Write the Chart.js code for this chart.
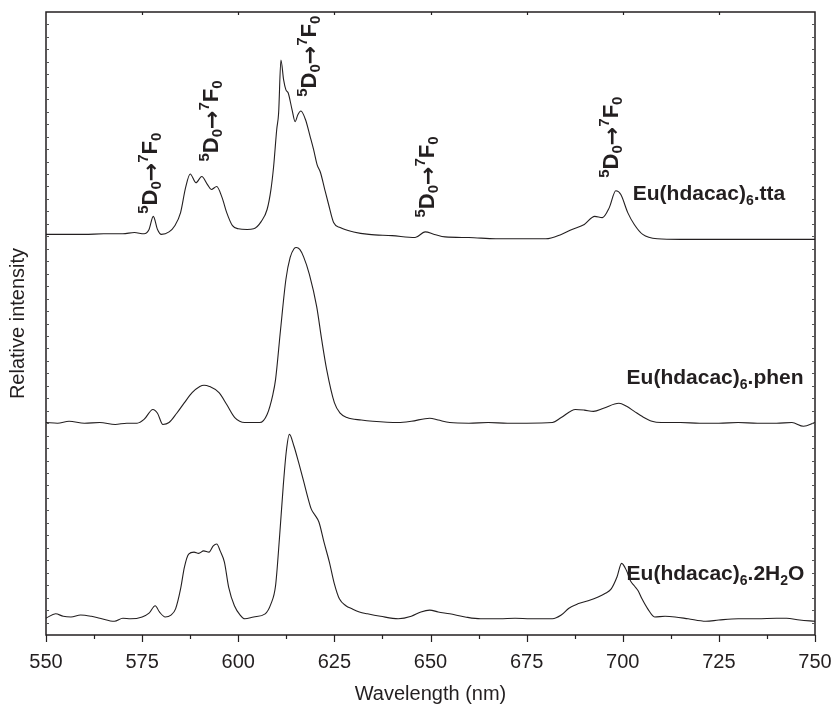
<!DOCTYPE html>
<html>
<head>
<meta charset="utf-8">
<script src="https://cdn.jsdelivr.net/npm/chart.js@4.4.1/dist/chart.umd.min.js"></script>
<style>
  html, body { margin: 0; padding: 0; background: #fff; }
  #wrap { width: 833px; height: 706px; position: relative; }
</style>
</head>
<body>
<div id="wrap"><canvas id="c"></canvas></div>
<script>
// ---------- DATA (y = relative intensity on a 0–100 plot scale) ----------
const xTicks = [550, 575, 600, 625, 650, 675, 700, 725, 750];

const wlTta = [550,555,560,565,570,573,575.5,576.8,577.9,579,580,582,583.5,585,586.3,587.5,589,590.5,592,593,594.4,595.8,597,598.5,600,602.3,604,606,607.5,608.5,609.2,610,610.5,611.1,611.8,612.4,613,614,614.8,615.5,616.3,617.5,618.7,619.6,620.5,621.4,622.5,623.5,624.8,626.5,630,634,640,646,648.6,651,653.8,660,667,675,680,684,686.8,690,692.7,694.7,696.5,698.2,699.5,701.3,703,705.2,709,715,725,735,745,750];
const intTta = [64.3,64.3,64.3,64.4,64.4,64.6,64.4,65.1,67.2,65.1,64.3,64.7,65.7,67.8,71.8,74.0,72.6,73.6,72.3,71.5,72.0,70.2,67.8,65.7,65.2,65.1,65.2,66.4,68.3,71.5,75.2,81.1,83.8,92.3,89.1,87.5,87.0,84.3,82.4,83.5,84.1,82.7,80.0,77.9,75.5,74.2,71.5,69.1,66.2,65.4,64.7,64.3,64.1,63.8,64.7,64.3,63.9,63.8,63.6,63.6,63.6,64.3,65.1,65.9,67.2,67.0,68.6,71.3,70.7,67.8,65.9,64.3,63.6,63.5,63.5,63.5,63.5,63.5];

const wlPhen = [550,553,556,560,564,568,571,573.7,575.5,577.8,579,580.4,582,584,586,588,590,591.1,592.5,595,597,599.1,601.7,605.6,607.5,609,609.7,611,612.4,613.5,614.5,615.1,616,617,618.5,620.4,621.7,623,625,626.5,628.3,632,635,641.6,645,649.8,652,655,660,665,670,675,681.7,684,687.7,690,692.4,695,699,701,703,705,707.6,710,715,720,725,730,735,740,744,747,750];
const intPhen = [34.1,34.0,34.3,34.0,34.1,33.8,34.0,34.0,34.6,36.2,35.6,33.8,34.1,35.6,37.3,38.9,39.9,40.1,39.9,38.9,37.0,34.9,34.1,34.1,35.4,38.6,41.0,49.0,57.1,60.6,62.0,62.2,61.9,60.7,57.9,52.7,47.4,42.6,37.3,35.6,34.9,34.5,34.3,34.1,34.3,34.8,34.5,34.1,34.0,34.1,34.0,34.0,34.1,34.9,36.2,36.1,35.9,36.4,37.2,36.7,35.9,35.1,34.3,34.1,34.1,34.0,34.0,34.1,34.0,34.0,34.1,33.5,34.1];

const wlH2O = [550,552.5,554.5,556.5,559,561.8,564,567.8,570,572,575,576.8,578.4,579.5,581,582.5,583.7,585,586,587.1,588.5,589.7,591,592.4,593.5,594.4,595.3,596.4,597.5,599,600.5,601.7,604,607,608.5,609.7,610.7,611.7,612.5,613.3,614.5,615.7,617,618,619,620,621,622.3,623.7,625,626.3,628,629.6,631.5,633.6,637,641.6,645,647.5,649.8,652,655,659,663,668,672,676,681.7,684,686,688.3,691,693.6,695.5,697,698.5,699.7,701,702,703,704,705,706.5,708.3,711,713.6,717,721.6,725,730,735,740,742.6,746,750];
const intH2O = [2.7,3.4,3.0,2.9,3.2,3.0,2.7,2.2,2.7,2.6,2.9,3.5,4.7,3.7,2.9,3.2,4.2,7.4,10.9,13.0,13.3,13.1,13.5,13.3,14.3,14.6,13.5,11.7,7.7,4.7,3.2,2.6,2.9,3.4,5.0,7.9,15.4,23.9,29.5,32.2,30.3,27.7,24.7,22.3,20.2,19.2,18.1,14.9,11.7,8.2,5.8,4.7,4.2,3.7,3.4,3.0,2.6,3.0,3.7,4.0,3.7,3.4,2.9,2.6,2.6,2.7,2.6,2.6,3.2,4.3,5.0,5.5,6.1,6.7,7.4,9.3,11.5,10.3,8.7,7.9,7.1,5.8,4.2,2.9,3.0,2.9,2.6,2.2,2.4,2.6,2.6,2.7,2.7,2.4,2.2];

const seriesNames = ["Eu(hdacac)6.tta", "Eu(hdacac)6.phen", "Eu(hdacac)6.2H2O"];
// transition annotation anchors: [wavelength at label centre, intensity at label foot]
const transitionNm = [577, 592.9, 618.5, 649.1, 696.9];
const transitionAt = [67.6, 76.0, 86.4, 67.0, 73.4];
// series label anchors: [wavelength of label start, intensity of label middle]
const seriesLabelNm = [702.6, 701.0, 701.0];
const seriesLabelAt = [71.0, 41.5, 10.1];

// ---------- CHART ----------
const INK = '#231f20';
const FONT = '"Liberation Sans", Arial, Helvetica, sans-serif';
const ARROW_FONT = '"DejaVu Sans", sans-serif';

function pts(xs, ys) { return xs.map((x, i) => ({ x: x, y: ys[i] })); }

function drawRich(ctx, segs, x, y) {
  let cx = x;
  for (const s of segs) {
    ctx.font = (s.bold ? 'bold ' : '') + s.size + 'px ' + (s.family || FONT);
    ctx.fillText(s.t, cx, y + (s.dy || 0));
    cx += ctx.measureText(s.t).width;
  }
}

const B = 21, S = 14;
const TB = 22, TS = 15;
const transitionSegs = [
  { t: '5', size: TS, bold: true, dy: -9 },
  { t: 'D', size: TB, bold: true },
  { t: '0', size: TS, bold: true, dy: 4 },
  { t: '\u2192', size: TB, bold: true, family: ARROW_FONT, dy: 1 },
  { t: '7', size: TS, bold: true, dy: -9 },
  { t: 'F', size: TB, bold: true },
  { t: '0', size: TS, bold: true, dy: 4 }
];
function nameSegs(name) {
  const segs = [];
  for (let i = 0; i < name.length; i++) {
    const ch = name[i];
    const prev = name[i - 1];
    if (/[0-9]/.test(ch) && (prev === ')' || prev === 'H')) {
      segs.push({ t: ch, size: S, bold: true, dy: 5 });
    } else {
      if (segs.length && !segs[segs.length - 1].dy) segs[segs.length - 1].t += ch;
      else segs.push({ t: ch, size: B, bold: true });
    }
  }
  return segs;
}

const decor = {
  id: 'decor',
  afterDatasetsDraw(chart) {
    const { ctx, chartArea: a, scales: { x, y } } = chart;
    ctx.save();
    ctx.strokeStyle = INK;
    ctx.lineWidth = 1.5;
    ctx.strokeRect(a.left, a.top, a.right - a.left, a.bottom - a.top);
    ctx.lineWidth = 1.2;
    ctx.beginPath();
    for (let v = 550; v <= 750; v += 12.5) {
      const px = Math.round(x.getPixelForValue(v)) + 0.5;
      const major = (v % 25) === 0;
      ctx.moveTo(px, a.bottom);
      ctx.lineTo(px, a.bottom + (major ? 7 : 4));
      if (major && v > 550 && v < 750) {
        ctx.moveTo(px, a.top);
        ctx.lineTo(px, a.top + 3);
      }
    }
    ctx.stroke();
    ctx.strokeStyle = '#555';
    ctx.lineWidth = 1;
    ctx.beginPath();
    for (let v = 2; v < 100; v += 2) {
      const py = Math.round(y.getPixelForValue(v)) + 0.5;
      ctx.moveTo(a.left, py); ctx.lineTo(a.left + 3, py);
      ctx.moveTo(a.right, py); ctx.lineTo(a.right - 3, py);
    }
    ctx.stroke();

    ctx.fillStyle = INK;
    ctx.textBaseline = 'alphabetic';
    ctx.textAlign = 'left';
    transitionNm.forEach((nm, i) => {
      const px = x.getPixelForValue(nm);
      const py = y.getPixelForValue(transitionAt[i]);
      ctx.save();
      ctx.translate(px, py);
      ctx.rotate(-Math.PI / 2);
      drawRich(ctx, transitionSegs, 0, 7);
      ctx.restore();
    });
    seriesNames.forEach((nm, i) => {
      const px = x.getPixelForValue(seriesLabelNm[i]);
      const py = y.getPixelForValue(seriesLabelAt[i]);
      drawRich(ctx, nameSegs(nm), px, py + 7.5);
    });
    ctx.restore();
  }
};

const lineStyle = {
  borderColor: INK, borderWidth: 1.1, pointRadius: 0, fill: false,
  cubicInterpolationMode: 'monotone'
};

new Chart(document.getElementById('c'), {
  type: 'line',
  data: {
    datasets: [
      Object.assign({ label: seriesNames[0], data: pts(wlTta, intTta) }, lineStyle),
      Object.assign({ label: seriesNames[1], data: pts(wlPhen, intPhen) }, lineStyle),
      Object.assign({ label: seriesNames[2], data: pts(wlH2O, intH2O) }, lineStyle)
    ]
  },
  options: {
    responsive: true,
    maintainAspectRatio: false,
    animation: false,
    layout: { padding: { left: 6, right: 18, top: 12, bottom: 0 } },
    plugins: { legend: { display: false }, tooltip: { enabled: false } },
    scales: {
      x: {
        type: 'linear', min: 550, max: 750,
        afterBuildTicks(scale) { scale.ticks = xTicks.map(v => ({ value: v })); },
        afterFit(scale) { scale.paddingRight = 0; },
        ticks: { color: INK, font: { family: FONT, size: 20 }, padding: 8, maxRotation: 0 },
        grid: { drawOnChartArea: false, drawTicks: true, tickLength: 7, color: 'rgba(0,0,0,0)' },
        border: { display: false },
        title: { display: true, text: 'Wavelength (nm)', color: INK, font: { family: FONT, size: 20 }, padding: { top: 0, bottom: 0 } }
      },
      y: {
        type: 'linear', min: 0, max: 100,
        ticks: { display: false },
        grid: { display: false },
        border: { display: false },
        title: { display: true, text: 'Relative intensity', color: INK, font: { family: FONT, size: 20 }, padding: { top: 0, bottom: 8 } }
      }
    }
  },
  plugins: [decor]
});
</script>
</body>
</html>
